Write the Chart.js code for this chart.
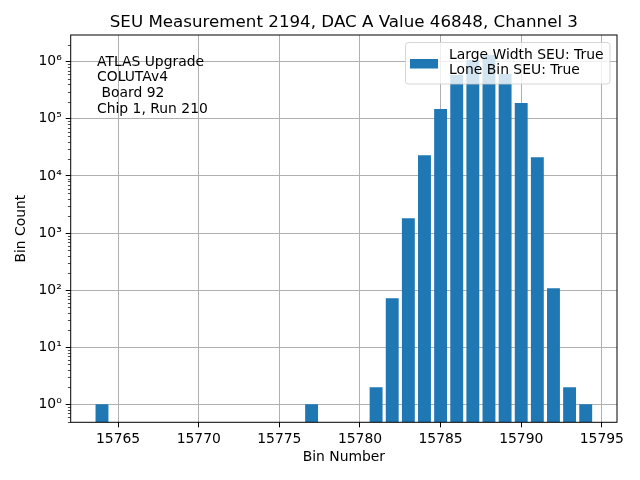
<!DOCTYPE html>
<html>
<head>
<meta charset="utf-8">
<script src="https://cdn.jsdelivr.net/npm/chart.js@4/dist/chart.umd.min.js"></script>
<style>
html,body{margin:0;padding:0;background:#fff;}
canvas{display:block;}
</style>
</head>
<body>
<canvas id="c" width="640" height="480"></canvas>
<script>
// ---- data ----
const bins = [15764, 15777, 15781, 15782, 15783, 15784, 15785, 15786, 15787, 15788, 15789, 15790, 15791, 15792, 15793, 15794];
const counts = [1, 1, 2, 72, 1820, 23100, 148000, 585000, 1070000, 1310000, 608000, 189000, 21300, 108, 2, 1];
const xTickValues = [15765, 15770, 15775, 15780, 15785, 15790, 15795];
const yTickValues = [1, 10, 100, 1000, 10000, 100000, 1000000];
const yTickLabels = ['10\u2070', '10\u00B9', '10\u00B2', '10\u00B3', '10\u2074', '10\u2075', '10\u2076'];
const titleText = 'SEU Measurement 2194, DAC A Value 46848, Channel 3';
const infoLines = ['ATLAS Upgrade', 'COLUTAv4', ' Board 92', 'Chip 1, Run 210'];
const legendLines = ['Large Width SEU: True', 'Lone Bin SEU: True'];
const xLabel = 'Bin Number';
const yLabel = 'Bin Count';

const FONT = "'DejaVu Sans', 'Liberation Sans', sans-serif";
const BLUE = '#1f77b4';
const GRID = '#b0b0b0';

const decorPlugin = {
  id: 'decor',
  afterDraw(chart) {
    const ctx = chart.ctx;
    const a = chart.chartArea;
    const ys = chart.scales.y;
    ctx.save();
    // minor ticks on y (log)
    ctx.strokeStyle = '#000';
    ctx.lineWidth = 0.7;
    for (let e = -1; e <= 7; e++) {
      for (let m = 2; m <= 9; m++) {
        const v = m * Math.pow(10, e);
        if (v < ys.min || v > ys.max) continue;
        const py = Math.round(ys.getPixelForValue(v)) + 0.5;
        ctx.beginPath();
        ctx.moveTo(a.left, py);
        ctx.lineTo(a.left - 2.8, py);
        ctx.stroke();
      }
    }
    // frame
    ctx.lineWidth = 1;
    ctx.strokeStyle = '#000';
    ctx.strokeRect(a.left, a.top, a.right - a.left, a.bottom - a.top);

    // info text
    ctx.fillStyle = '#000';
    ctx.font = '13.9px ' + FONT;
    ctx.textAlign = 'left';
    ctx.textBaseline = 'middle';
    infoLines.forEach((t, i) => {
      ctx.fillText(t, 97, 62 + i * 15.7);
    });

    // legend
    const lx = 405.5, ly = 42.5, lw = 204.5, lh = 41.5, r = 3;
    ctx.beginPath();
    ctx.moveTo(lx + r, ly);
    ctx.lineTo(lx + lw - r, ly);
    ctx.quadraticCurveTo(lx + lw, ly, lx + lw, ly + r);
    ctx.lineTo(lx + lw, ly + lh - r);
    ctx.quadraticCurveTo(lx + lw, ly + lh, lx + lw - r, ly + lh);
    ctx.lineTo(lx + r, ly + lh);
    ctx.quadraticCurveTo(lx, ly + lh, lx, ly + lh - r);
    ctx.lineTo(lx, ly + r);
    ctx.quadraticCurveTo(lx, ly, lx + r, ly);
    ctx.closePath();
    ctx.fillStyle = 'rgba(255,255,255,0.8)';
    ctx.fill();
    ctx.strokeStyle = 'rgba(204,204,204,0.8)';
    ctx.lineWidth = 1;
    ctx.stroke();
    ctx.fillStyle = BLUE;
    ctx.fillRect(410, 59, 28, 9.5);
    ctx.fillStyle = '#000';
    ctx.font = '13.9px ' + FONT;
    ctx.textBaseline = 'middle';
    legendLines.forEach((t, i) => {
      ctx.fillText(t, 449, 55 + i * 15.7);
    });

    // title
    ctx.font = '16.7px ' + FONT;
    ctx.textAlign = 'center';
    ctx.textBaseline = 'alphabetic';
    ctx.fillText(titleText, (a.left + a.right) / 2, 27.3);

    // axis titles
    ctx.font = '13.9px ' + FONT;
    ctx.textBaseline = 'middle';
    ctx.fillText(xLabel, (a.left + a.right) / 2, 457.5);
    ctx.save();
    ctx.translate(21, (a.top + a.bottom) / 2);
    ctx.rotate(-Math.PI / 2);
    ctx.fillText(yLabel, 0, 0);
    ctx.restore();
    ctx.restore();
  }
};

new Chart(document.getElementById('c'), {
  type: 'bar',
  data: {
    datasets: [{
      label: legendLines.join(' '),
      data: bins.map((b, i) => ({ x: b, y: counts[i] })),
      backgroundColor: BLUE,
      borderWidth: 0,
      barPercentage: 0.8,
      categoryPercentage: 1.0
    }]
  },
  options: {
    responsive: false,
    devicePixelRatio: 1,
    animation: false,
    layout: { padding: { top: 35, right: 23, left: 0, bottom: 0 } },
    plugins: {
      legend: { display: false },
      title: { display: false },
      tooltip: { enabled: false }
    },
    scales: {
      x: {
        type: 'linear',
        offset: false,
        min: 15762.06,
        max: 15795.94,
        z: 1,
        afterBuildTicks(scale) { scale.ticks = xTickValues.map(v => ({ value: v })); },
        afterFit(scale) { scale.height = 57.7; },
        grid: {
          color: GRID,
          lineWidth: 1,
          offset: false,
          drawTicks: true,
          tickLength: 5,
          tickColor: '#000',
          tickWidth: 1
        },
        border: { display: false },
        ticks: {
          autoSkip: false,
          maxRotation: 0,
          padding: 4,
          color: '#000',
          font: { family: FONT, size: 13.9 },
          callback: (v) => String(v)
        }
      },
      y: {
        type: 'logarithmic',
        min: 0.485,
        max: 2.94e6,
        z: 1,
        afterBuildTicks(scale) { scale.ticks = yTickValues.map(v => ({ value: v })); },
        afterFit(scale) { scale.width = 70.7; },
        grid: {
          color: GRID,
          lineWidth: 1,
          drawTicks: true,
          tickLength: 5,
          tickColor: '#000',
          tickWidth: 1
        },
        border: { display: false },
        ticks: {
          autoSkip: false,
          padding: 4,
          color: '#000',
          font: { family: FONT, size: 13.9 },
          callback: (v) => {
            const i = yTickValues.indexOf(v);
            return i >= 0 ? yTickLabels[i] : '';
          }
        }
      }
    }
  },
  plugins: [decorPlugin]
});
</script>
</body>
</html>
